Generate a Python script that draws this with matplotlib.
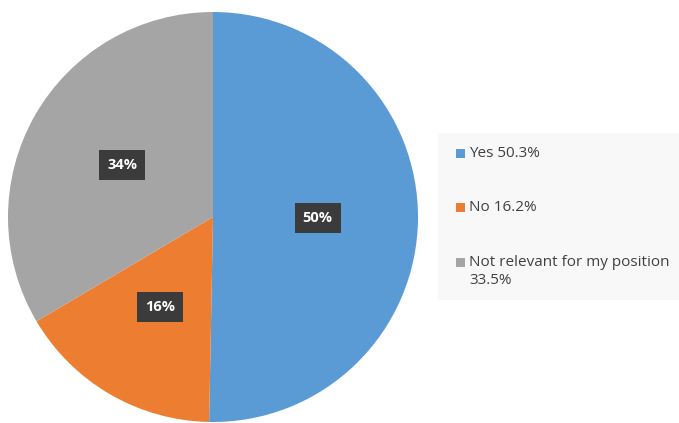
import textwrap
import matplotlib.pyplot as plt
from matplotlib.patches import Rectangle

# 回答データ
categories = ['Yes', 'No', 'Not relevant for my position']
shares = [50.3, 16.2, 33.5]
colors = ['#5B9BD5', '#ED7D31', '#A5A5A5']

W, H = 679, 423
fig = plt.figure(figsize=(W / 100, H / 100), dpi=100)

def fx(px):
    return px / W

def fy(py):
    return 1 - py / H

# 円グラフの領域（中心 213,217 / 半径 205 px）
cx, cy, r = 213, 217, 205
ax = fig.add_axes([fx(cx - r), fy(cy + r), 2 * r / W, 2 * r / H])

wedges, texts, autotexts = ax.pie(
    shares, colors=colors, startangle=90, counterclock=False,
    autopct='%1.0f%%', pctdistance=0.51,
    wedgeprops=dict(linewidth=0),
    textprops=dict(color='white', fontsize=10.5, fontweight='bold', family='Open Sans'),
)
for t in autotexts:
    t.set_bbox(dict(boxstyle='square,pad=0.55', facecolor='#3b3b3b', edgecolor='none'))
ax.set_xlim(-1, 1)
ax.set_ylim(-1, 1)
ax.axis('off')

# 凡例の背景
fig.patches.append(Rectangle((fx(438), fy(300)), fx(679 - 438), 167 / H,
                             transform=fig.transFigure, facecolor='#f8f8f8',
                             edgecolor='none', zorder=0))

# 凡例（手描き）
rows_y = [153, 207, 262]
for name, val, col, y in zip(categories, shares, colors, rows_y):
    fig.patches.append(Rectangle((fx(456), fy(y + 5)), 9 / W, 9 / H,
                                 transform=fig.transFigure, facecolor=col,
                                 edgecolor='none'))
    label = textwrap.fill(f'{name} {val}%', width=28)
    fig.text(fx(469), fy(y - 7), label, ha='left', va='top', fontsize=11,
             color='#404040', family='Open Sans', linespacing=1.3)

fig.savefig('out.png', dpi=100)
